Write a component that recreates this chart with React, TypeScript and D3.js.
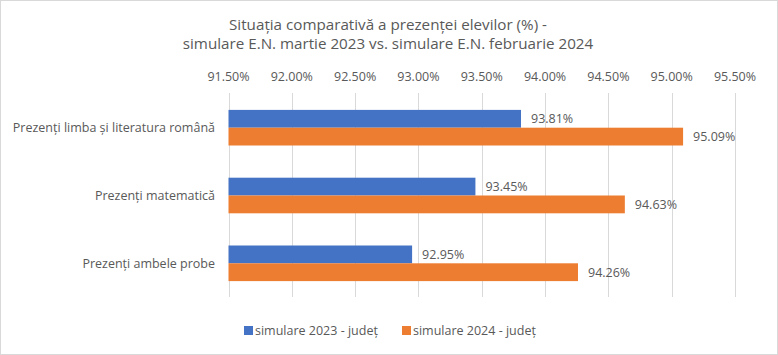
import React from "react";
import * as d3 from "d3";

const categories = [
  "Prezenți limba și literatura română",
  "Prezenți matematică",
  "Prezenți ambele probe",
];
const series2023 = [93.81, 93.45, 92.95];
const series2024 = [95.09, 94.63, 94.26];
const seriesNames = ["simulare 2023 - județ", "simulare 2024 - județ"];
const tickValues = [91.5, 92, 92.5, 93, 93.5, 94, 94.5, 95, 95.5];
const titleLines = [
  "Situația comparativă a prezenței elevilor (%) -",
  "simulare E.N. martie 2023 vs. simulare E.N. februarie 2024",
];

const W = 778;
const H = 355;
const FONT = "'Open Sans', 'Noto Sans', sans-serif";
const TXT = "#595959";
const BLUE = "#4472C4";
const ORANGE = "#ED7D31";

export default function App() {
  const x = d3.scaleLinear().domain([91.5, 95.5]).range([228.5, 735]);
  const y = d3
    .scaleBand<string>()
    .domain(categories)
    .range([93.8, 297.2])
    .paddingInner(0)
    .paddingOuter(0);
  const barH = 17.8;
  const fmt = (v: number) => v.toFixed(2) + "%";
  const series = [series2023, series2024];
  const colors = [BLUE, ORANGE];

  return (
    <div style={{ position: "absolute", left: 0, top: 0 }}>
      <svg width={W} height={H} style={{ display: "block" }}>
        <rect x={0} y={0} width={W} height={H} fill="#fff" />
        <rect x={0.5} y={0.5} width={W - 1} height={H - 1} fill="none" stroke="#d9d9d9" />
        {titleLines.map((t, i) => (
          <text
            key={i}
            x={388}
            y={30 + i * 19}
            textAnchor="middle"
            fontFamily={FONT}
            fontSize={15.2}
            fill={TXT}
          >
            {t}
          </text>
        ))}
        {tickValues.map((v) => (
          <g key={v}>
            <line
              x1={Math.round(x(v)) + 0.5}
              x2={Math.round(x(v)) + 0.5}
              y1={93}
              y2={297}
              stroke="#d9d9d9"
              strokeWidth={1}
            />
            <text
              x={x(v)}
              y={80.5}
              textAnchor="middle"
              fontFamily={FONT}
              fontSize={12.5}
              fill={TXT}
            >
              {fmt(v)}
            </text>
          </g>
        ))}
        {categories.map((c, ci) => {
          const cy = (y(c) as number) + y.bandwidth() / 2;
          return (
            <g key={c}>
              <text
                x={215}
                y={cy}
                dy="0.35em"
                textAnchor="end"
                fontFamily={FONT}
                fontSize={12.5}
                fill={TXT}
              >
                {c}
              </text>
              {series.map((s, si) => {
                const top = cy - barH + si * barH;
                const v = s[ci];
                return (
                  <g key={si}>
                    <rect
                      x={x(91.5)}
                      y={top}
                      width={x(v) - x(91.5)}
                      height={barH}
                      fill={colors[si]}
                    />
                    <text
                      x={x(v) + 10}
                      y={top + barH / 2}
                      dy="0.35em"
                      fontFamily={FONT}
                      fontSize={12.5}
                      fill={TXT}
                    >
                      {fmt(v)}
                    </text>
                  </g>
                );
              })}
            </g>
          );
        })}
        {seriesNames.map((n, i) => {
          const lx = [244, 402][i];
          return (
            <g key={n}>
              <rect x={lx} y={326} width={9} height={9} fill={colors[i]} />
              <text
                x={lx + 11}
                y={330.5}
                dy="0.35em"
                fontFamily={FONT}
                fontSize={12.5}
                fill={TXT}
              >
                {n}
              </text>
            </g>
          );
        })}
      </svg>
    </div>
  );
}
